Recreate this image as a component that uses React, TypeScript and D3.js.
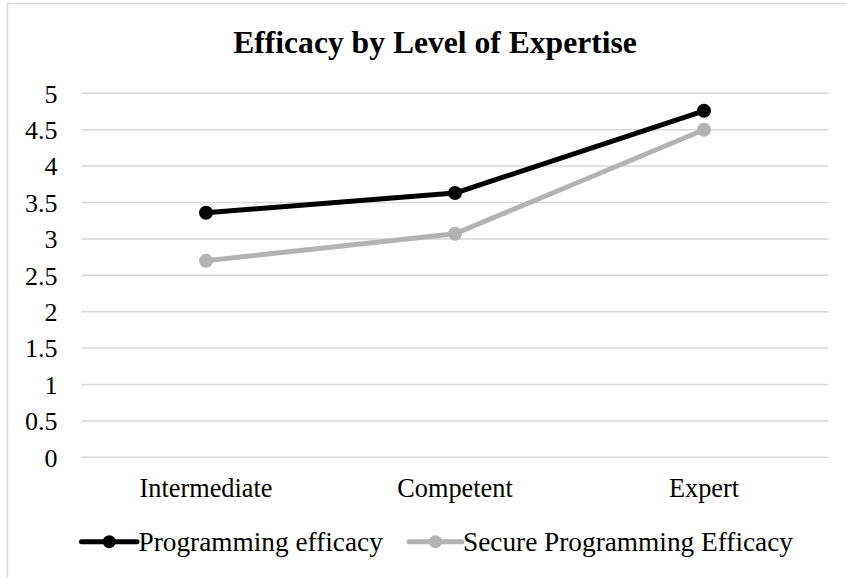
import React, { useRef, useEffect } from 'react';
import * as d3 from 'd3';

const levels = ['Intermediate', 'Competent', 'Expert'];
const programmingEfficacy = [3.36, 3.63, 4.76];
const secureEfficacy = [2.7, 3.07, 4.5];
const yTicks = [0, 0.5, 1, 1.5, 2, 2.5, 3, 3.5, 4, 4.5, 5];

const seriesNames = ['Programming efficacy', 'Secure Programming Efficacy'];
const seriesColors = ['#000000', '#b3b3b3'];

const App = () => {
  const svgRef = useRef<SVGSVGElement>(null);

  useEffect(() => {
    const width = 846;
    const height = 578;
    const font = '"Liberation Serif", "Times New Roman", serif';
    const plot = { left: 81.5, right: 828.5, top: 93.3, bottom: 457.3 };

    const svg = d3.select(svgRef.current)
      .attr('width', width)
      .attr('height', height);

    svg.selectAll('*').remove();

    // chart area frame (only top and left edge fall inside the picture)
    svg.append('rect')
      .attr('x', 7.5)
      .attr('y', 3.5)
      .attr('width', 1000)
      .attr('height', 1000)
      .attr('fill', 'white')
      .attr('stroke', '#d9d9d9')
      .attr('stroke-width', 1.5);

    svg.append('text')
      .attr('x', 435)
      .attr('y', 52.5)
      .attr('text-anchor', 'middle')
      .style('font-family', font)
      .style('font-weight', 'bold')
      .style('font-size', '31.6px')
      .text('Efficacy by Level of Expertise');

    const x = d3.scaleBand()
      .domain(levels)
      .range([plot.left, plot.right]);

    const y = d3.scaleLinear()
      .domain([0, 5])
      .range([plot.bottom, plot.top]);

    // gridlines
    svg.append('g')
      .selectAll('line')
      .data(yTicks)
      .enter()
      .append('line')
      .attr('x1', plot.left)
      .attr('x2', plot.right)
      .attr('y1', d => y(d))
      .attr('y2', d => y(d))
      .attr('stroke', '#d9d9d9')
      .attr('stroke-width', 1.5);

    // y tick labels
    svg.append('g')
      .selectAll('text')
      .data(yTicks)
      .enter()
      .append('text')
      .attr('x', 57.5)
      .attr('y', d => y(d) + 9.3)
      .attr('text-anchor', 'end')
      .style('font-family', font)
      .style('font-size', '26px')
      .text(d => String(d));

    // category labels
    svg.append('g')
      .selectAll('text')
      .data(levels)
      .enter()
      .append('text')
      .attr('x', d => (x(d) as number) + x.bandwidth() / 2)
      .attr('y', 497.3)
      .attr('text-anchor', 'middle')
      .style('font-family', font)
      .style('font-size', '26.3px')
      .text(d => d);

    const line = d3.line<number>()
      .x((d, i) => (x(levels[i]) as number) + x.bandwidth() / 2)
      .y(d => y(d));

    // draw grey series first so black sits on top
    [secureEfficacy, programmingEfficacy].forEach((values, k) => {
      const color = k === 0 ? seriesColors[1] : seriesColors[0];
      const g = svg.append('g');
      g.append('path')
        .datum(values)
        .attr('d', line)
        .attr('fill', 'none')
        .attr('stroke', color)
        .attr('stroke-width', 5)
        .attr('stroke-linejoin', 'round');
      g.selectAll('circle')
        .data(values)
        .enter()
        .append('circle')
        .attr('cx', (d, i) => (x(levels[i]) as number) + x.bandwidth() / 2)
        .attr('cy', d => y(d))
        .attr('r', 7)
        .attr('fill', color);
    });

    // legend
    const legendItems = [
      { name: seriesNames[0], color: seriesColors[0], x0: 81.5, x1: 137, tx: 138.5 },
      { name: seriesNames[1], color: seriesColors[1], x0: 409, x1: 462, tx: 463 },
    ];
    const legend = svg.append('g');
    legendItems.forEach(item => {
      legend.append('line')
        .attr('x1', item.x0)
        .attr('x2', item.x1)
        .attr('y1', 541.7)
        .attr('y2', 541.7)
        .attr('stroke', item.color)
        .attr('stroke-width', 5)
        .attr('stroke-linecap', 'round');
      legend.append('circle')
        .attr('cx', (item.x0 + item.x1) / 2)
        .attr('cy', 541.7)
        .attr('r', 6.5)
        .attr('fill', item.color);
      legend.append('text')
        .attr('x', item.tx)
        .attr('y', 550.7)
        .style('font-family', font)
        .style('font-size', '27.3px')
        .text(item.name);
    });
  }, []);

  return <svg ref={svgRef} style={{ position: 'absolute', left: 0, top: 0, display: 'block' }}></svg>;
};

export default App;
